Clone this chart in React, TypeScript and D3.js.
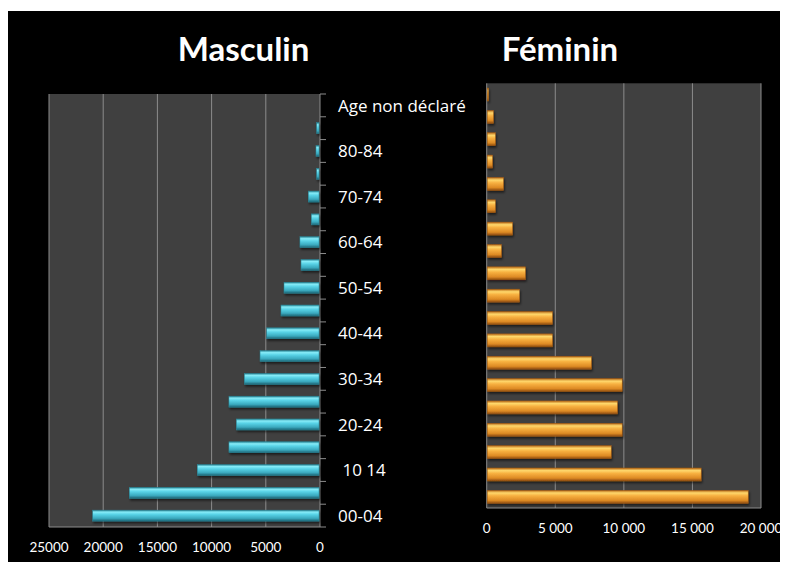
import * as d3 from 'd3'
import React from 'react'

// age groups, bottom to top
const categories = ['00-04', '05-09', ' 10 14', '15-19', '20-24', '25-29', '30-34', '35-39', '40-44', '45-49',
  '50-54', '55-59', '60-64', '65-69', '70-74', '75-79', '80-84', '85 et +', 'Age non déclaré']
const masculin = [20970, 17590, 11320, 8400, 7720, 8400, 6980, 5530, 4920, 3600,
  3320, 1750, 1850, 800, 1080, 310, 370, 310, 0]
const feminin = [19030, 15600, 9040, 9840, 9500, 9840, 7600, 4760, 4760, 2360,
  2790, 1040, 1850, 600, 1190, 390, 600, 460, 100]
const ticksM = [25000, 20000, 15000, 10000, 5000, 0]
const ticksF = [0, 5000, 10000, 15000, 20000]

const W = 780, H = 554
const font = 'Lato, "Open Sans", sans-serif'
const plotBg = '#404040', gridC = '#8c8c8c'

const fr = d3.formatLocale({ decimal: ',', thousands: ' ', grouping: [3], currency: ['', ''] }).format(',')

export default function App() {
  const
    xM = d3.scaleLinear().domain([25000, 0]).range([41, 312]),
    yM = d3.scaleBand<string>().domain(categories).range([519, 86]).paddingInner(0.52).paddingOuter(0.26),
    xF = d3.scaleLinear().domain([0, 20000]).range([478.7, 753]),
    yF = d3.scaleBand<string>().domain(categories).range([500, 75.3]).paddingInner(0.42).paddingOuter(0.21),
    stepM = yM.step(),
    [mTop, mBot] = [86, 519]

  return (
    <svg width={W} height={H} style={{ display: 'block' }}>
      <defs>
        <linearGradient id='cyan' x1='0' y1='0' x2='0' y2='1'>
          <stop offset='0' stopColor='#2a8798' />
          <stop offset='0.18' stopColor='#86ecf8' />
          <stop offset='0.4' stopColor='#58d2e6' />
          <stop offset='0.75' stopColor='#3aa9be' />
          <stop offset='1' stopColor='#1d6474' />
        </linearGradient>
        <linearGradient id='orange' x1='0' y1='0' x2='0' y2='1'>
          <stop offset='0' stopColor='#b86a18' />
          <stop offset='0.2' stopColor='#ffd86c' />
          <stop offset='0.42' stopColor='#f7b040' />
          <stop offset='0.78' stopColor='#dd8a24' />
          <stop offset='1' stopColor='#8e4c10' />
        </linearGradient>
        <filter id='shadow' x='-10%' y='-30%' width='130%' height='180%'>
          <feDropShadow dx='1' dy='2' stdDeviation='1.2' floodColor='#000' floodOpacity='0.55' />
        </filter>
      </defs>
      <rect x={0} y={3} width={W} height={H - 3} fill='#000' />

      {/* Masculin */}
      <text x={235.5} y={53} textAnchor='middle' fill='#fff' fontFamily={font} fontWeight='bold' fontSize={33}>Masculin</text>
      <rect x={xM(25000)} y={mTop} width={xM(0) - xM(25000)} height={mBot - mTop} fill={plotBg} />
      {ticksM.map(t => <line key={t} x1={xM(t)} x2={xM(t)} y1={mTop} y2={mBot} stroke={gridC} strokeWidth={1} />)}
      <line x1={xM(25000)} x2={xM(0)} y1={mBot} y2={mBot} stroke={gridC} />
      {d3.range(categories.length + 1).map(i =>
        <line key={i} x1={xM(0)} x2={xM(0) + 6} y1={mBot - i * stepM} y2={mBot - i * stepM} stroke={gridC} />)}
      <g filter='url(#shadow)'>
        {masculin.map((v, i) => v > 0 &&
          <rect key={i} x={xM(v)} y={yM(categories[i])!} width={xM(0) - xM(v) - 1} height={yM.bandwidth()}
            fill='url(#cyan)' stroke='#2a8a9c' strokeWidth={0.5} />)}
      </g>
      {ticksM.map(t =>
        <text key={t} x={xM(t)} y={544} textAnchor='middle' fill='#fff' fontFamily={font} fontSize={13.5}>{d3.format('d')(t)}</text>)}

      {/* age labels */}
      {categories.map((c, i) => i % 2 === 0 &&
        <text key={c} x={330} y={yM(c)! + yM.bandwidth() / 2} dy='0.36em' fill='#fff' fontFamily='"Open Sans", sans-serif' fontSize={17}
          style={{ whiteSpace: 'pre' }}>{c}</text>)}

      {/* Féminin */}
      <text x={552} y={53} textAnchor='middle' fill='#fff' fontFamily={font} fontWeight='bold' fontSize={33}>Féminin</text>
      <rect x={xF(0)} y={75.3} width={xF(20000) - xF(0)} height={500 - 75.3} fill={plotBg} />
      {ticksF.map(t => <line key={t} x1={xF(t)} x2={xF(t)} y1={75.3} y2={500} stroke={gridC} strokeWidth={1} />)}
      <line x1={xF(0)} x2={xF(20000)} y1={500} y2={500} stroke={gridC} />
      <g filter='url(#shadow)'>
        {feminin.map((v, i) =>
          <rect key={i} x={xF(0) + 0.5} y={yF(categories[i])!} width={Math.max(xF(v) - xF(0), 1)} height={yF.bandwidth()}
            fill='url(#orange)' stroke='#a55d14' strokeWidth={0.5} />)}
      </g>
      {ticksF.map(t =>
        <text key={t} x={xF(t)} y={525} textAnchor='middle' fill='#fff' fontFamily={font} fontSize={13.5}>{fr(t)}</text>)}
    </svg>
  )
}
